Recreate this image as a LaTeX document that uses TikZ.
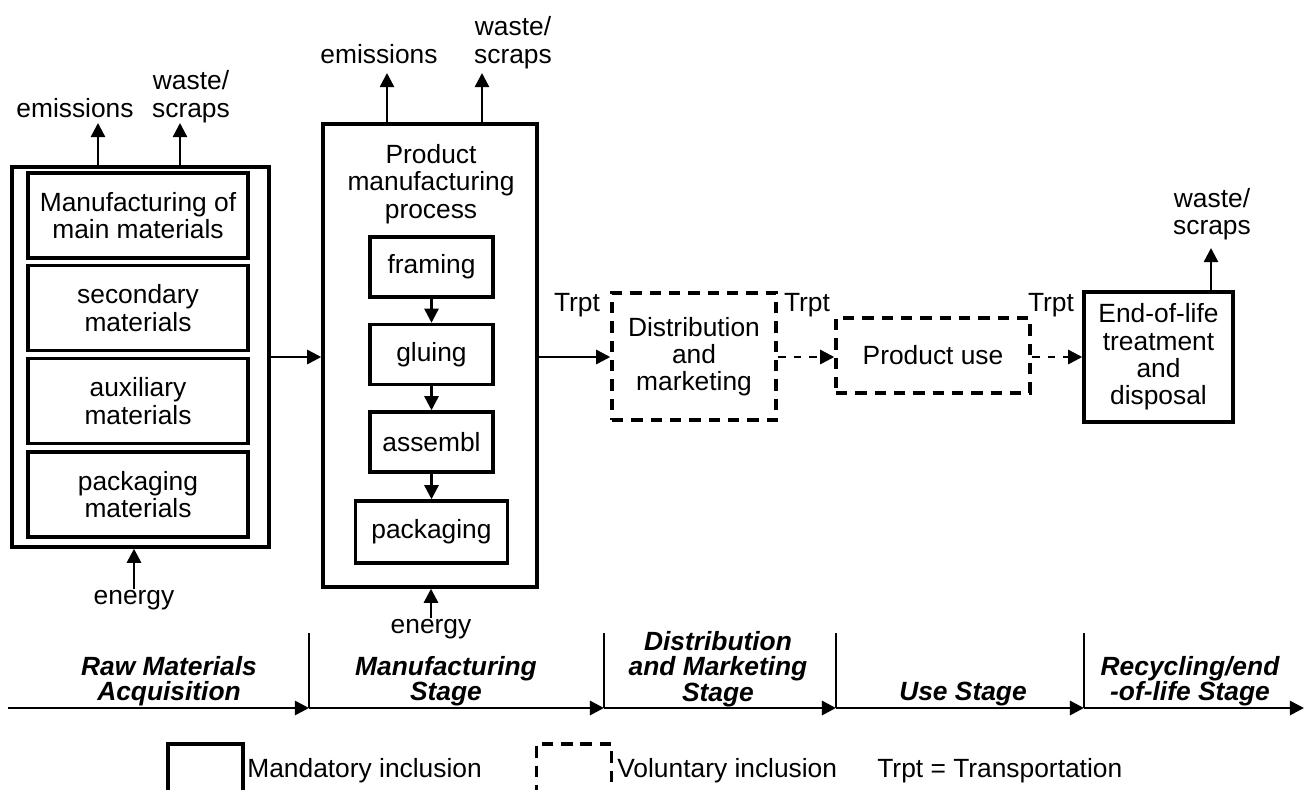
\documentclass[tikz,border=0pt]{standalone}
\usepackage{fontspec}
\setmainfont{Liberation Sans}
\usetikzlibrary{arrows.meta,positioning}

\begin{document}
\begin{tikzpicture}[x=0.02cm, y=-0.02cm,
    font=\fontsize{15}{15.5}\selectfont,
    box/.style={draw, line width=2pt, inner sep=0pt, align=center},
    vbox/.style={box, dash pattern=on 6.5pt off 4.5pt},
    rawitem/.style={box, minimum width=4.4cm, minimum height=1.7cm},
    stepbox/.style={box, minimum width=2.46cm, minimum height=1.2cm},
    txt/.style={inner sep=0pt, align=center},
    stage/.style={txt, font=\fontsize{15}{14.5}\selectfont\bfseries\itshape},
    arr/.style={line width=1.4pt, -{Triangle[length=8pt,width=8pt]}},
    darr/.style={arr, dash pattern=on 4.5pt off 4.5pt},
    tline/.style={line width=1.5pt, -{Triangle[length=8pt,width=8pt]}},
    tick/.style={line width=1pt}]
    \useasboundingbox (0,0) rectangle (1309,789);
    \clip (0,0) rectangle (1309,789);

    \node[box, minimum width=5.14cm, minimum height=7.6cm] (rawbox) at (140.5,357) {};
    \node[rawitem] (raw1) at (138,215.5) {Manufacturing of\\main materials};
    \node[rawitem] (raw2) at (138,308) {secondary\\materials};
    \node[rawitem] (raw3) at (138,401) {auxiliary\\materials};
    \node[rawitem] (raw4) at (138,494.5) {packaging\\materials};

    \node[txt, anchor=base] (rawemis) at (75,117) {emissions};
    \node[txt] (rawwaste) at (191,96.6) {waste/\\scraps};
    \node[txt, anchor=base] (rawnrg) at (134,604) {energy};
    \coordinate (rawE) at (98,123);
    \coordinate (rawW) at (180,123);
    \draw[arr] (rawbox.north -| rawE) -- (rawE);
    \draw[arr] (rawbox.north -| rawW) -- (rawW);
    \draw[arr] (rawnrg.north) -- (rawnrg.north |- rawbox.south);

    \node[box, minimum width=4.28cm, minimum height=9.26cm] (mfgbox) at (430,355.5) {};
    \node[txt] (mfgtitle) at (431,184) {Product\\manufacturing\\process};
    \node[stepbox] (framing) at (431.5,267) {framing};
    \node[stepbox] (gluing) at (431.5,354.5) {gluing};
    \node[stepbox] (assembl) at (431.5,442) {assembl};
    \node[stepbox, minimum width=3.04cm, minimum height=1.24cm] (packaging) at (431.5,532) {packaging};
    \draw[arr] (framing) -- (gluing);
    \draw[arr] (gluing) -- (assembl);
    \draw[arr] (assembl) -- (packaging);

    \node[txt, anchor=base] (mfgemis) at (379,63) {emissions};
    \node[txt] (mfgwaste) at (513,42.6) {waste/\\scraps};
    \node[txt, anchor=base] (mfgnrg) at (431,633) {energy};
    \coordinate (mfgE) at (387,73);
    \coordinate (mfgW) at (482,73);
    \draw[arr] (mfgbox.north -| mfgE) -- (mfgE);
    \draw[arr] (mfgbox.north -| mfgW) -- (mfgW);
    \draw[arr] (mfgnrg.north) -- (mfgnrg.north |- mfgbox.south);

    \node[vbox, minimum width=3.28cm, minimum height=2.54cm] (distbox) at (694,356.5) {Distribution\\and\\marketing};
    \node[vbox, minimum width=3.88cm, minimum height=1.5cm] (usebox) at (933,355.5) {Product use};
    \node[box, minimum width=2.98cm, minimum height=2.6cm] (eolbox) at (1158.5,357) {End-of-life\\treatment\\and\\disposal};
    \node[txt] (eolwaste) at (1212,214) {waste/\\scraps};
    \coordinate (eolW) at (1211,248);
    \draw[arr] (eolbox.north -| eolW) -- (eolW);

    \node[txt, anchor=base] (trpt1) at (577,311) {Trpt};
    \node[txt, anchor=base] (trpt2) at (807,311) {Trpt};
    \node[txt, anchor=base] (trpt3) at (1051,311) {Trpt};

    \draw[arr] (rawbox.east) -- (rawbox.east -| mfgbox.west);
    \draw[arr] (mfgbox.east |- rawbox.east) -- (rawbox.east -| distbox.west);
    \draw[darr] (distbox.east |- rawbox.east) -- (rawbox.east -| usebox.west);
    \draw[darr] (usebox.east |- rawbox.east) -- (rawbox.east -| eolbox.west);

    \foreach \n/\x in {0/8,1/309,2/604,3/836,4/1084,5/1304}
        \coordinate (t\n) at (\x,708);
    \foreach \a/\b in {0/1,1/2,2/3,3/4,4/5}
        \draw[tline] (t\a) -- (t\b);
    \foreach \n in {1,...,4}
        \draw[tick] (t\n) -- ++(0,-75);

    \node[stage] (rawlbl) at (169,681) {Raw Materials\\Acquisition};
    \node[stage] (mfglbl) at (446,681) {Manufacturing\\Stage};
    \node[stage] (distlbl) at (718,669) {Distribution\\and Marketing\\Stage};
    \node[stage, anchor=base] (uselbl) at (963,700) {Use Stage};
    \node[stage] (eollbl) at (1190,681) {Recycling/end\\-of-life Stage};

    \node[box, minimum width=1.5cm, minimum height=1.2cm, anchor=north] (mandbox) at (205.5,742) {};
    \node[txt, anchor=base west] (mandtxt) at (247,777) {Mandatory inclusion};
    \node[vbox, minimum width=1.5cm, minimum height=1.2cm, anchor=north] (volbox) at (574,742) {};
    \node[txt, anchor=base west] (voltxt) at (617,777) {Voluntary inclusion};
    \node[txt, anchor=base west] (trptkey) at (877,777) {Trpt = Transportation};
\end{tikzpicture}
\end{document}
